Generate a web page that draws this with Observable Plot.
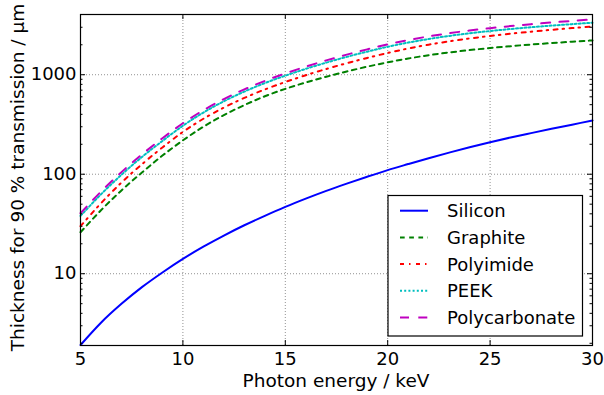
<!DOCTYPE html>
<html><head><meta charset="utf-8">
<script src="https://cdn.jsdelivr.net/npm/d3@7"></script>
<script src="https://cdn.jsdelivr.net/npm/@observablehq/plot@0.6"></script>
<style>
body{margin:0;background:#fff;}
#chart{position:relative;width:604px;height:395px;}
</style>
</head><body><div id="chart"></div>
<script>
// Photon energy (keV)
const energy = [5,6,7,8,9,10,11,12,13,14,15,16,17,18,19,20,21,22,23,24,25,26,27,28,29,30];
// Thickness for 90 % transmission (µm)
const silicon = [1.92,3.22,4.98,7.33,10.3,14.1,18.7,24.2,30.7,38.2,47.0,56.9,68.1,80.5,94.4,110,126.5,145,165,187,210,234,259,286,315,347];
const graphite = [26.1,43.4,68.8,104,154,219,300,393,495,607,721,835,954,1078,1205,1332,1455,1570,1674,1768,1857,1936,2013,2080,2148,2212];
const polyimide = [30.0,51.1,82.4,126,186,266,361,467,585,711,845,988,1142,1305,1475,1655,1834,2005,2165,2313,2453,2584,2709,2827,2943,3057];
const peek = [38.1,62.8,98.7,149,216,307,417,541,677,824,978,1145,1323,1512,1705,1909,2103,2286,2455,2608,2750,2880,3002,3116,3225,3331];
const polycarbonate = [40.5,66.8,105,158,230,325,440,570,713,867,1030,1205,1393,1592,1799,2018,2228,2427,2612,2780,2938,3083,3221,3350,3475,3597];

const seriesNames = ["Silicon","Graphite","Polyimide","PEEK","Polycarbonate"];
const seriesValues = [silicon, graphite, polyimide, peek, polycarbonate];
const seriesColors = ["#0000ff","#008000","#ff0000","#00bfbf","#bf00bf"];
const seriesDashes = [null,"4.7,4.5","4,5,1.5,5.5","2,2.2","9,9.3"];

const xTicks = [5,10,15,20,25,30];
const yTicks = [10,100,1000];
const yMinorTicks = [2,3,4,5,6,7,8,9,20,30,40,50,60,70,80,90,200,300,400,500,600,700,800,900,2000,3000];
const xLabel = "Photon energy / keV";
const yLabel = "Thickness for 90 % transmission / µm";

const W = 604, H = 395, mL = 80, mR = 12, mT = 14, mB = 50;
const fw = W - mL - mR, fh = H - mT - mB;

const lineMarks = seriesValues.map((vals, i) =>
  Plot.line(energy.map((e, j) => ({e, v: vals[j]})), {
    x: "e", y: "v", stroke: seriesColors[i], strokeWidth: 2,
    strokeDasharray: seriesDashes[i] || undefined, curve: "monotone-x"
  })
);

const grid = {stroke: "#000", strokeOpacity: 0.55, strokeWidth: 0.8, strokeDasharray: "1,2"};

const plot = Plot.plot({
  width: W, height: H,
  marginLeft: mL, marginRight: mR, marginTop: mT, marginBottom: mB,
  style: {fontFamily: "'DejaVu Sans', sans-serif", fontSize: "18px", background: "white", color: "black"},
  x: {domain: [5, 30], axis: null},
  y: {type: "log", domain: [1.9, 4030], axis: null},
  marks: [
    Plot.ruleX(xTicks, {x: d => d, ...grid}),
    Plot.ruleY(yTicks, {y: d => d, ...grid}),
    ...lineMarks,
    Plot.tickY(yTicks, {y: d => d, insetRight: fw - 5, stroke: "black"}),
    Plot.tickY(yTicks, {y: d => d, insetLeft: fw - 5, stroke: "black"}),
    Plot.tickY(yMinorTicks, {y: d => d, insetRight: fw - 2.5, stroke: "black"}),
    Plot.tickY(yMinorTicks, {y: d => d, insetLeft: fw - 2.5, stroke: "black"}),
    Plot.tickX(xTicks, {x: d => d, insetTop: fh - 5, stroke: "black"}),
    Plot.tickX(xTicks, {x: d => d, insetBottom: fh - 5, stroke: "black"}),
    Plot.frame({stroke: "black", strokeWidth: 1.2}),
    Plot.axisY(yTicks, {tickSize: 0, tickPadding: 4, tickFormat: d => String(d), fontSize: 18, label: null}),
    Plot.axisX(xTicks, {tickSize: 0, tickPadding: 7, tickFormat: d => String(d), fontSize: 18, label: null})
  ]
});

document.getElementById("chart").appendChild(plot);
const svg = d3.select(plot);

// axis titles
svg.append("text")
  .attr("transform", `translate(24,${mT + fh / 2 - 2}) rotate(-90)`)
  .attr("text-anchor", "middle")
  .attr("font-size", 18.5)
  .attr("fill", "black")
  .text(yLabel);
svg.append("text")
  .attr("x", mL + fw / 2)
  .attr("y", 387)
  .attr("text-anchor", "middle")
  .attr("font-size", 18.5)
  .attr("fill", "black")
  .text(xLabel);

// legend
const lg = svg.append("g").attr("text-anchor", "start");
lg.append("rect").attr("x", 388).attr("y", 195.5).attr("width", 194.5).attr("height", 140.5)
  .attr("fill", "white").attr("stroke", "black").attr("stroke-width", 1.2);
seriesNames.forEach((name, i) => {
  const y = 210.7 + 26.7 * i;
  const ln = lg.append("line").attr("x1", 400).attr("x2", 428).attr("y1", y).attr("y2", y)
    .attr("stroke", seriesColors[i]).attr("stroke-width", 2);
  if (seriesDashes[i]) ln.attr("stroke-dasharray", seriesDashes[i]);
  lg.append("text").attr("x", 447).attr("y", y + 6.5).attr("text-anchor", "start")
    .attr("font-size", 18).attr("fill", "black").text(name);
});
</script>
</body></html>
